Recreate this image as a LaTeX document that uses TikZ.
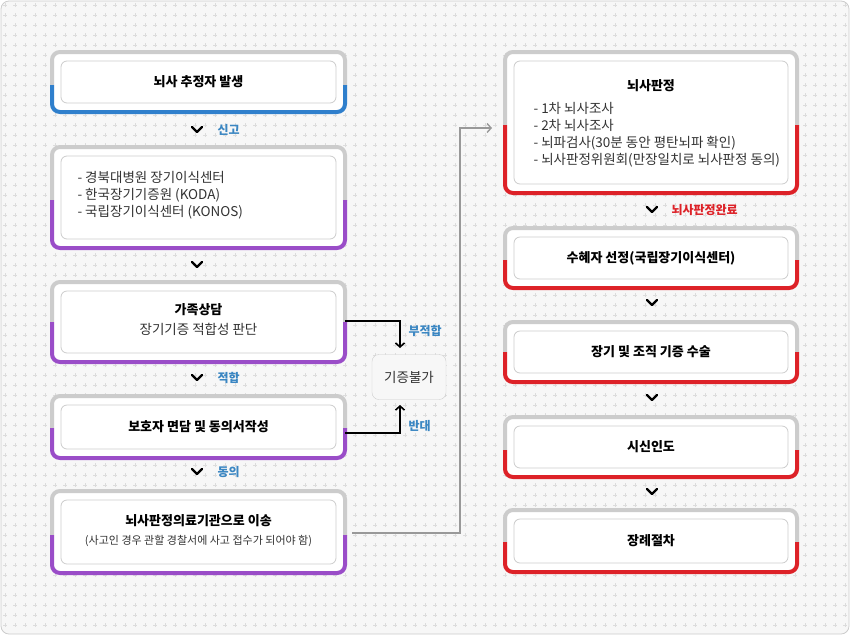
\documentclass[tikz,border=0pt]{standalone}
\usepackage{fontspec}
\setmainfont{Noto Sans CJK KR}
\usetikzlibrary{positioning,arrows.meta}
\definecolor{bgc}{HTML}{F7F7F7}
\definecolor{crossc}{HTML}{DCDCDC}
\definecolor{rimc}{HTML}{CCCCCC}
\definecolor{bluec}{HTML}{2F7FCC}
\definecolor{purplec}{HTML}{9A4DC8}
\definecolor{redc}{HTML}{DD2228}
\definecolor{labc}{HTML}{3A86C2}
\definecolor{txtc}{HTML}{333333}
\tikzset{
  inbox/.style={draw=rimc, line width=0.8pt, fill=white, rounded corners=6pt},
  ttl/.style={font=\fontsize{13}{16}\selectfont\bfseries, text=black},
  body/.style={font=\fontsize{13.5}{17}\selectfont, text=txtc, align=left},
  lab/.style={font=\fontsize{12}{14}\selectfont\bfseries, text=labc, anchor=west},
  chev/.style={line width=2.4pt, line cap=round, line join=round},
  link/.style={line width=1.6pt, -{Straight Barb[length=4pt,width=9pt]}},
}
% framed step box: x1,y1,x2,y2,split,colour
\newcommand{\stepframe}[6]{%
  \begin{scope}
    \clip (#1-5,#2-5) rectangle (#3+5,#5);
    \draw[rimc, line width=4pt, fill=white, rounded corners=8pt] (#1,#2) rectangle (#3,#4);
  \end{scope}
  \begin{scope}
    \clip (#1-5,#5) rectangle (#3+5,#4+5);
    \draw[#6, line width=4pt, fill=white, rounded corners=8pt] (#1,#2) rectangle (#3,#4);
  \end{scope}
  \draw[inbox] (#1+9,#2+9) rectangle (#3-9,#4-9);
}
\newcommand{\chevat}[2]{\draw[chev] (#1-5,#2-3) -- (#1,#2+2) -- (#1+5,#2-3);}
\begin{document}
\begin{tikzpicture}[x=1pt,y=-1pt]
\useasboundingbox (0,0) rectangle (850,635);
\fill[bgc, rounded corners=8pt] (1,1) rectangle (849,634);
\foreach \i in {0,...,84}{
  \foreach \j in {0,...,62}{
    \draw[crossc, line width=0.6pt] (5+\i*10-2,5+\j*10) -- ++(4,0) (5+\i*10,5+\j*10-2) -- ++(0,4);
  }
}
\draw[rimc, line width=0.8pt, rounded corners=8pt] (1,1) rectangle (849,634);

% left column
\stepframe{52}{52}{345}{112}{85}{bluec}
\node[ttl] (occur) at (198.5,82) {뇌사 추정자 발생};
\stepframe{52}{147}{345}{248}{200}{purplec}
\node[body, anchor=west] (report) at (74,195) {- 경북대병원 장기이식센터\\- 한국장기기증원 (KODA)\\- 국립장기이식센터 (KONOS)};
\stepframe{52}{282}{345}{362}{322}{purplec}
\node[ttl] (family) at (198.5,310) {가족상담};
\node[body, below=0pt of family] (fit) {장기기증 적합성 판단};
\stepframe{52}{396}{345}{458}{428}{purplec}
\node[ttl] (consent) at (198.5,427) {보호자 면담 및 동의서작성};
\stepframe{52}{491}{345}{573}{535}{purplec}
\node[ttl] (move) at (198.5,521) {뇌사판정의료기관으로 이송};
\node[font=\fontsize{11}{13}\selectfont, text=txtc, below=1pt of move] (police) {(사고인 경우 관할 경찰서에 사고 접수가 되어야 함)};

\chevat{197}{130}\node[lab] at (214,130) {신고};
\chevat{197}{265}
\chevat{197}{378}\node[lab] at (214,378) {적합};
\chevat{197}{472}\node[lab] at (214,472) {동의};

% refusal box
\node[draw=rimc, fill=bgc, rounded corners=7pt, minimum width=74pt, minimum height=45pt,
      font=\fontsize{13.5}{16}\selectfont, text=txtc] (nogo) at (409,377) {기증불가};
\coordinate (famr) at (345,321);
\coordinate (conr) at (345,433);
\draw[link] (famr) -- (400,321) -- (400,348);
\draw[link] (conr) -- (400,433) -- (400,405);
\node[lab] at (405,331) {부적합};
\node[lab] at (405,426) {반대};

% right column
\stepframe{505}{52}{797}{193}{125}{redc}
\node[ttl] (judge) at (651,86) {뇌사판정};
\node[body, anchor=north west] (tests) at (530,99) {- 1차 뇌사조사\\- 2차 뇌사조사\\- 뇌파검사(30분 동안 평탄뇌파 확인)\\- 뇌사판정위원회(만장일치로 뇌사판정 동의)};
\stepframe{505}{228}{797}{288}{260}{redc}
\node[ttl] (recip) at (651,258) {수혜자 선정(국립장기이식센터)};
\stepframe{505}{322}{797}{382}{352}{redc}
\node[ttl] (surg) at (651,352) {장기 및 조직 기증 수술};
\stepframe{505}{417}{797}{477}{450}{redc}
\node[ttl] (hand) at (651,447) {시신인도};
\stepframe{505}{510}{797}{572}{542}{redc}
\node[ttl] (fun) at (651,541) {장례절차};

\chevat{652}{210}\node[lab, text=redc] at (668,210) {뇌사판정완료};
\chevat{652}{303}
\chevat{652}{398}
\chevat{652}{492}

% transfer line
\coordinate (mover) at (352,533);
\coordinate (judgel) at (492,128);
\draw[gray!80, line width=1.4pt, -{Straight Barb[length=4pt,width=9pt]}] (mover) -- (460,533) -- (460,128) -- (judgel);
\end{tikzpicture}
\end{document}
